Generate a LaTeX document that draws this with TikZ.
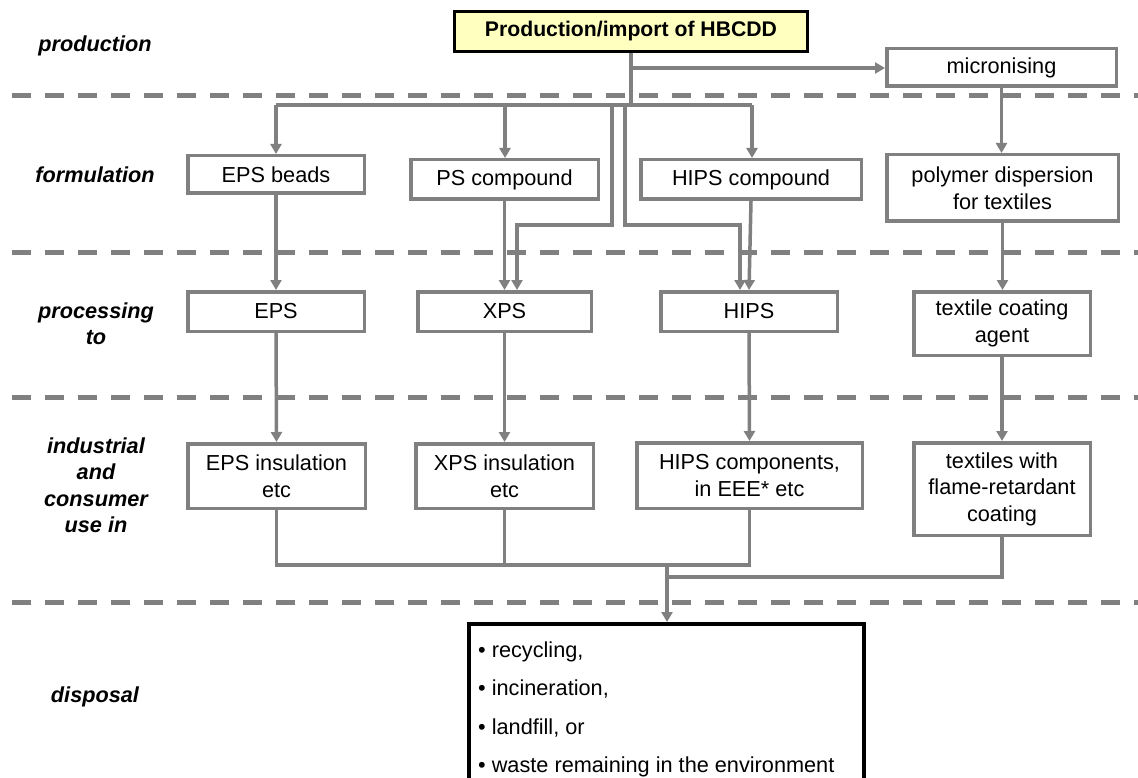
\documentclass[tikz,border=0pt]{standalone}
\usepackage{fontspec}
\setmainfont{Liberation Sans}
\usetikzlibrary{arrows.meta}
\definecolor{lgray}{HTML}{808080}
\definecolor{topfill}{HTML}{FFFFC0}
\tikzset{
  box/.style={draw=lgray, line width=3.5pt, align=center, inner sep=0pt, font=\fontsize{21.7}{26.5}\selectfont},
  lbl/.style={align=center, inner sep=0pt, font=\fontsize{21.7}{26.5}\selectfont\bfseries\itshape},
  conn/.style={draw=lgray, line width=3.5pt},
  arr/.style={conn, -{Triangle[length=10pt,width=11pt]}},
  sep/.style={draw=lgray, line width=5pt, dash pattern=on 19pt off 14pt},
}
\begin{document}
\begin{tikzpicture}[x=1pt,y=-1pt]
\useasboundingbox (0,0) rectangle (1138,778);
\clip (0,0) rectangle (1138,778);
% separators
\draw[sep] (12,96) -- (1140,96);
\draw[sep] (12,253) -- (1140,253);
\draw[sep] (12,397) -- (1140,397);
\draw[sep] (12,602) -- (1140,602);
% stage labels
\node[lbl] (Lprod) at (95,46) {production};
\node[lbl] (Lform) at (95,175) {formulation};
\node[lbl] (Lproc) at (96,323.5) {processing\\to};
\node[lbl] (Luse) at (96,485) {industrial\\and\\consumer\\use in};
\node[lbl] (Ldisp) at (95,697) {disposal};
% boxes
\node[box, draw=black, line width=3pt, fill=topfill, minimum width=353pt, minimum height=40pt, font=\fontsize{21.2}{26.5}\selectfont\bfseries] (top) at (631,31.5) {Production/import of HBCDD};
\node[box, minimum width=229.5pt, minimum height=37.5pt] (micr) at (1001.5,67.5) {micronising};
\node[box, minimum width=176.5pt, minimum height=37.5pt] (epsb) at (276,174.5) {EPS beads};
\node[box, minimum width=187.5pt, minimum height=39.5pt] (psc) at (504.5,179.5) {PS compound};
\node[box, minimum width=220.5pt, minimum height=39.5pt] (hipsc) at (751,179.5) {HIPS compound};
\node[box, minimum width=231.5pt, minimum height=66.5pt] (poly) at (1002.5,188) {polymer dispersion\\for textiles};
\node[box, minimum width=176.5pt, minimum height=39.5pt] (eps) at (276,311.5) {EPS};
\node[box, minimum width=173.5pt, minimum height=39.5pt] (xps) at (504.5,311.5) {XPS};
\node[box, minimum width=176.5pt, minimum height=39.5pt] (hips) at (749,311.5) {HIPS};
\node[box, minimum width=176.5pt, minimum height=63.5pt] (tca) at (1002,323.5) {textile coating\\agent};
\node[box, minimum width=177.5pt, minimum height=64.5pt] (epsi) at (276.5,476) {EPS insulation\\etc};
\node[box, minimum width=177.5pt, minimum height=64.5pt] (xpsi) at (504.5,476) {XPS insulation\\etc};
\node[box, minimum width=225.5pt, minimum height=65.5pt] (hipsi) at (749.5,475.5) {HIPS components,\\in EEE* etc};
\node[box, minimum width=176.5pt, minimum height=92.5pt] (texi) at (1002,489) {textiles with\\flame-retardant\\coating};
\node[box, draw=black, line width=4pt, minimum width=395pt, minimum height=160pt] (disp) at (666.5,704) {};
\node[anchor=north west, inner sep=0pt, align=left, font=\fontsize{21.7}{38.3}\selectfont] (dispt) at (478,641.5) {• recycling,\\• incineration,\\• landfill, or\\• waste remaining in the environment};
% connectors
\coordinate (busL) at (276,105);
\coordinate (busR) at (752,105);
\coordinate (bPS) at (505,105);
\coordinate (bX) at (612,105);
\coordinate (kX) at (517,225);
\coordinate (bH) at (625,105);
\coordinate (kH) at (740,225);
\coordinate (mj) at (632,68);
\draw[conn] (top.south) -- (top.south |- busL);
\draw[conn] (busL) -- (busR);
\draw[arr] (busL) -- (epsb.north);
\draw[arr] (bPS) -- (bPS |- psc.north);
\draw[arr] (busR) -- (busR |- hipsc.north);
\draw[arr] (bX) |- (kX) -- (kX |- xps.north);
\draw[arr] (bH) |- (kH) -- (kH |- hips.north);
\draw[arr] (mj) -- (micr.west |- mj);
\draw[arr] (micr.south) -- (micr.south |- poly.north);
\draw[arr] (poly.south) -- (poly.south |- tca.north);
\draw[arr] (epsb.south) -- (eps.north);
\draw[arr] (psc.south) -- (psc.south |- xps.north);
\draw[arr] (hipsc.south) -- (hips.north);
\draw[arr] (eps.south) -- (epsi.north);
\draw[arr] (xps.south) -- (xpsi.north);
\draw[arr] (hips.south) -- (hipsi.north);
\draw[arr] (tca.south) -- (texi.north);
\coordinate (m1) at (276,565);
\coordinate (mj2) at (667,565);
\coordinate (t2) at (667,577);
\draw[conn] (epsi.south) |- (hipsi.south |- m1) -- (hipsi.south);
\draw[conn] (xpsi.south) -- (xpsi.south |- m1);
\draw[conn] (texi.south) |- (t2);
\draw[arr] (mj2) -- (mj2 |- disp.north);
\end{tikzpicture}
\end{document}
